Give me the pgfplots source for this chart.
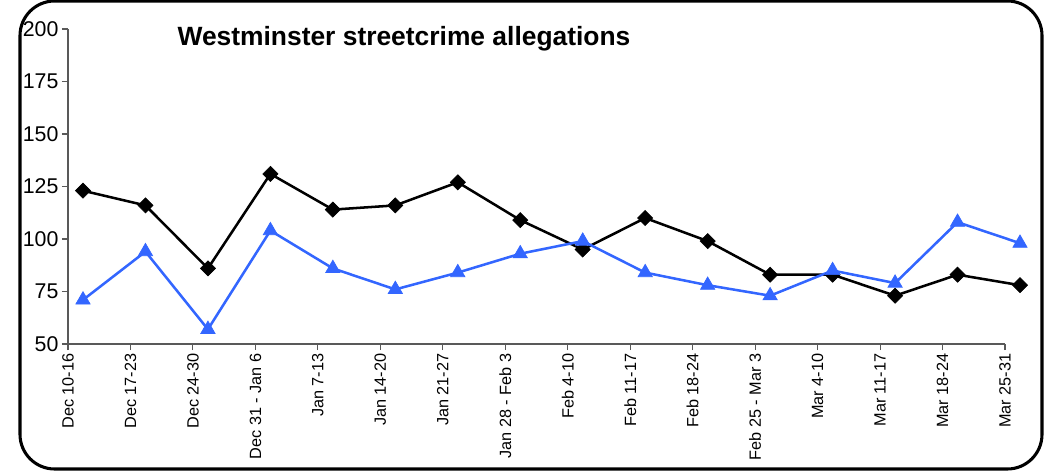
\documentclass[border=0pt]{standalone}
\usepackage{pgfplots}
\pgfplotsset{compat=1.18}
\usepackage{fontspec}
\setmainfont{Liberation Sans}
\definecolor{crimeblue}{RGB}{51,102,255}

\pgfplotstableread{
x   black blue
0.24  123  71
1.24  116  94
2.24   86  57
3.24  131 104
4.24  114  86
5.24  116  76
6.24  127  84
7.24  109  93
8.24   95  99
9.24  110  84
10.24  99  78
11.24  83  73
12.24  83  85
13.24  73  79
14.24  83 108
15.24  78  98
}\crimedata

\begin{document}
\begin{tikzpicture}[x=0.75pt,y=0.75pt]
\useasboundingbox (0,0) rectangle (1045,472);
\draw[line width=2.3pt, rounded corners=26pt] (20,3) rectangle (1042,471);
\begin{axis}[
  at={(68pt*0.75,128pt*0.75)}, anchor=south west,
  scale only axis,
  width=702.75pt, height=236.25pt,
  xmin=0, xmax=15, ymin=50, ymax=200,
  clip=false,
  axis x line=bottom, axis y line=left,
  axis line style={-, draw=black!65, line width=0.8pt},
  tick style={draw=black!65, line width=0.8pt},
  tick align=outside, major tick length=4.5pt,
  xtick={0,...,15},
  xticklabels={Dec 10-16, Dec 17-23, Dec 24-30, Dec 31 - Jan 6, Jan 7-13, Jan 14-20, Jan 21-27, Jan 28 - Feb 3, Feb 4-10, Feb 11-17, Feb 18-24, Feb 25 - Mar 3, Mar 4-10, Mar 11-17, Mar 18-24, Mar 25-31},
  xticklabel style={rotate=90, anchor=east, font=\fontsize{12.2}{14}\selectfont, inner sep=2.5pt},
  ytick={50,75,...,200},
  yticklabel style={font=\fontsize{16}{18}\selectfont, /pgf/number format/assume math mode=true, inner sep=2.5pt},
  title={Westminster streetcrime allegations},
  title style={at={(axis description cs:0.3586,0.945)}, anchor=center, font=\bfseries\fontsize{19.8}{23}\selectfont},
]
\addplot[black, line width=1.9pt, mark=square*, mark size=4pt, mark options={solid, rotate=45, fill=black, line width=0.5pt}] table[x=x, y=black] {\crimedata};
\addplot[crimeblue, line width=1.9pt, mark=triangle*, mark size=6.2pt, mark options={solid, fill=crimeblue, line width=0.5pt}] table[x=x, y=blue] {\crimedata};
\end{axis}
\end{tikzpicture}
\end{document}
